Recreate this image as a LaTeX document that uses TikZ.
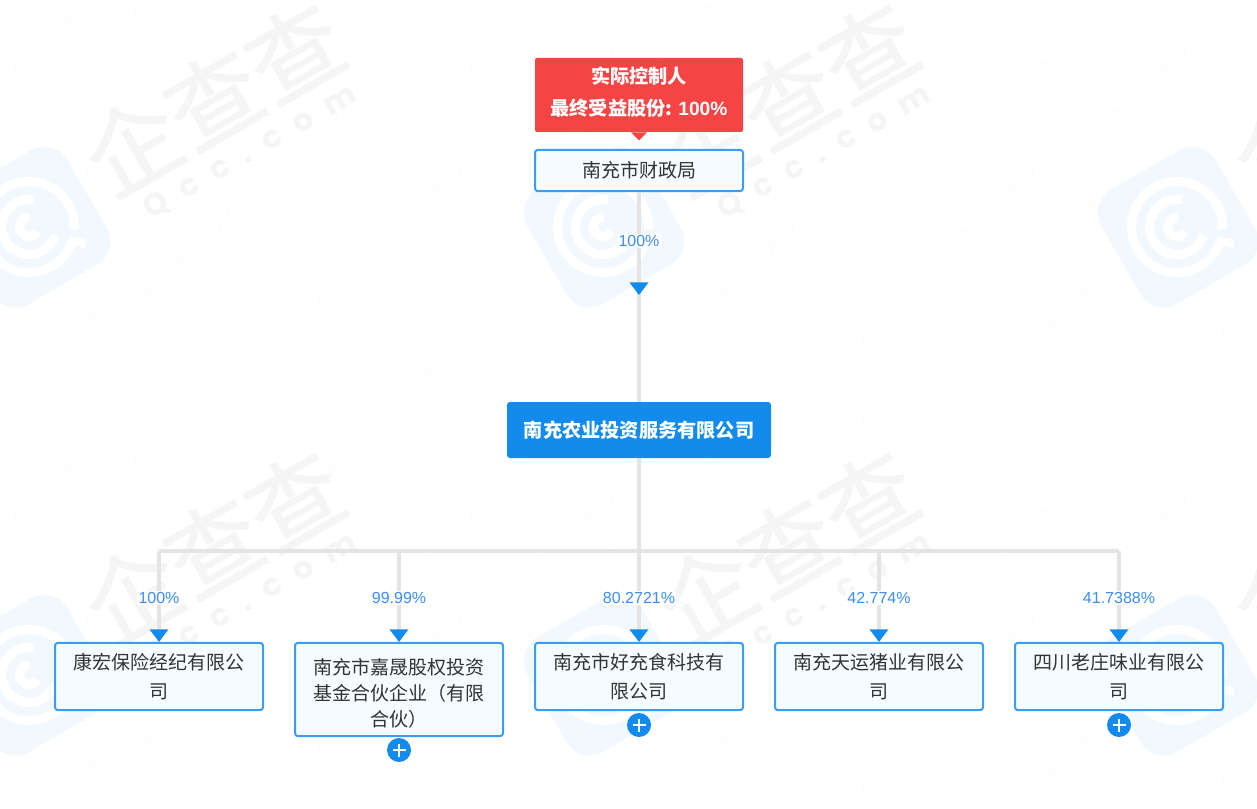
\documentclass[tikz,border=0pt]{standalone}
\usepackage{fontspec}
\setmainfont{Noto Sans CJK SC}
\newfontfamily\latinf{Liberation Sans}
\newfontfamily\wmf[LetterSpace=54]{Poppins}
\newfontfamily\wmb[LetterSpace=60]{Poppins}
\newfontfamily\wmc[FakeBold=1.2]{Noto Sans CJK SC}
\usetikzlibrary{calc}
\definecolor{qblue}{HTML}{128BED}
\definecolor{qline}{HTML}{E4E4E4}
\definecolor{qborder}{HTML}{3A9DF2}
\definecolor{qfill}{HTML}{F5FBFF}
\definecolor{qred}{HTML}{F44444}
\definecolor{qlabel}{HTML}{3D8EF0}
\definecolor{qtext}{HTML}{333333}
\definecolor{wmlogo}{HTML}{F1F9FF}
\definecolor{wmtext}{HTML}{F5F5F5}
\definecolor{wmfaint}{HTML}{FDFDFD}
\tikzset{
  x=0.75pt,y=-0.75pt,
  entity/.style={draw=qborder,line width=1.5pt,fill=qfill,rounded corners=2.2pt,minimum width=156pt,text width=148pt,align=center,inner sep=0pt,text=qtext,font=\fontsize{14.25pt}{21.75pt}\selectfont},
  hub/.style={fill=qblue,rounded corners=2.2pt,minimum width=198pt,minimum height=42pt,text=white,inner sep=0pt,font=\fontsize{14.4pt}{16pt}\selectfont\bfseries},
  badge/.style={fill=qred,rounded corners=1.5pt,minimum width=156pt,minimum height=55.5pt,text=white,align=center,inner sep=0pt,font=\fontsize{14.4pt}{23.5pt}\selectfont\bfseries},
  link/.style={draw=qline,line width=2.8pt},
  tip/.style={fill=qblue},
  pct/.style={fill=white,text=qlabel,inner sep=1pt,font=\latinf\fontsize{12pt}{13pt}\selectfont},
  plusdot/.style={circle,fill=qblue,minimum size=18pt,inner sep=0pt},
  plusbar/.style={draw=white,line width=1.4pt},
}
\newcommand{\tipdown}[1]{\fill[tip] ($(#1)+(-9.5,-12.5)$) -- ($(#1)+(9.5,-12.5)$) -- (#1) -- cycle;}
\newcommand{\plusat}[2]{\node[plusdot] (#1) at (#2) {};
  \draw[plusbar] ($(#1.center)+(-6.5,0)$) -- ($(#1.center)+(6.5,0)$);
  \draw[plusbar] ($(#1.center)+(0,-6.5)$) -- ($(#1.center)+(0,6.5)$);}
\begin{document}
\begin{tikzpicture}
\useasboundingbox (0,0) rectangle (1257,809);
\begin{scope}
\clip (0,0) rectangle (1257,809);
\fill[white] (0,0) rectangle (1257,809);
\foreach \ox in {-574,0,574,1148}{
 \foreach \oy in {0,448}{
  \begin{scope}[shift={(\ox,\oy)}]
   \foreach \cx/\cy in {18/67,109/156,200/245,291/334,382/423,473/64,564/153,530/277,440/187,350/97,260/7,46/367,137/8}{
     \node[rotate=45,text=wmfaint,font=\wmb\fontsize{14pt}{14pt}\selectfont] at (\cx,\cy) {BESAD03};
   }
   \node[fill=wmlogo,rounded corners=20pt,minimum size=99pt,rotate=30,inner sep=0pt] (wl) at (30,227) {};
   \draw[white,line width=6.8pt] (29,227) ++(3:45.5) arc (3:-340:45.5);
   \draw[white,line width=6.8pt] (29,227) ++(18:27.5) arc (18:280:27.5);
   \draw[white,line width=6.8pt] (29,227) ++(28:9.5) arc (28:275:9.5);
   \draw[white,line width=6pt] (69,240) -- (86,244);
   \node[rotate=30,text=wmtext,font=\wmc\fontsize{70pt}{70pt}\selectfont] (wc) at (213,98) {企查查};
   \node[rotate=30,text=wmtext,font=\wmf\bfseries\fontsize{23pt}{23pt}\selectfont] (wq) at (250,152) {Qcc.com};
  \end{scope}
 }
}
\end{scope}

\node[entity,minimum height=31pt] (gov) at (639,170.5) {南充市财政局};
\node[badge] (ctrl) at (639,95) {实际控制人\\最终受益股份: {\latinf 100\%}\rule[-6pt]{0pt}{0pt}};
\fill[qred] ($(ctrl.south)+(-8,0)$) -- ($(ctrl.south)+(8,0)$) -- ($(ctrl.south)+(0,8)$) -- cycle;
\node[hub] (main) at (639,430) {\raisebox{-1.5pt}{南充农业投资服务有限公司}};
\node[entity,minimum height=50.5pt] (c1) at (159,676.5) {康宏保险经纪有限公\\司};
\node[entity,minimum height=70pt,font=\fontsize{14.25pt}{19.5pt}\selectfont] (c2) at (399,689.5) {\rule{0pt}{17.5pt}南充市嘉晟股权投资\\基金合伙企业（有限\\合伙）};
\node[entity,minimum height=50.5pt] (c3) at (639,676.5) {南充市好充食科技有\\限公司};
\node[entity,minimum height=50.5pt] (c4) at (879,676.5) {南充天运猪业有限公\\司};
\node[entity,minimum height=50.5pt] (c5) at (1119,676.5) {四川老庄味业有限公\\司};
\coordinate (bus) at (639,551);
\draw[link] (gov) -- (main);
\draw[link] (main) -- (c3);
\draw[link] (c1.north |- bus) -- (c5.north |- bus);
\foreach \c in {c1,c2,c4,c5}{\draw[link] (\c.north |- bus) -- (\c.north);}
\coordinate (t0) at (639,295);
\tipdown{t0}
\foreach \c in {c1,c2,c3,c4,c5}{\tipdown{\c.north}}
\node[pct] (p0) at (639,241) {100\%};
\node[pct] at (c1.north |- 0,598) {100\%};
\node[pct] at (c2.north |- 0,598) {99.99\%};
\node[pct] at (c3.north |- 0,598) {80.2721\%};
\node[pct] at (c4.north |- 0,598) {42.774\%};
\node[pct] at (c5.north |- 0,598) {41.7388\%};
\plusat{e2}{399,750}
\plusat{e3}{639,725}
\plusat{e5}{1119,725}
\end{tikzpicture}
\end{document}
